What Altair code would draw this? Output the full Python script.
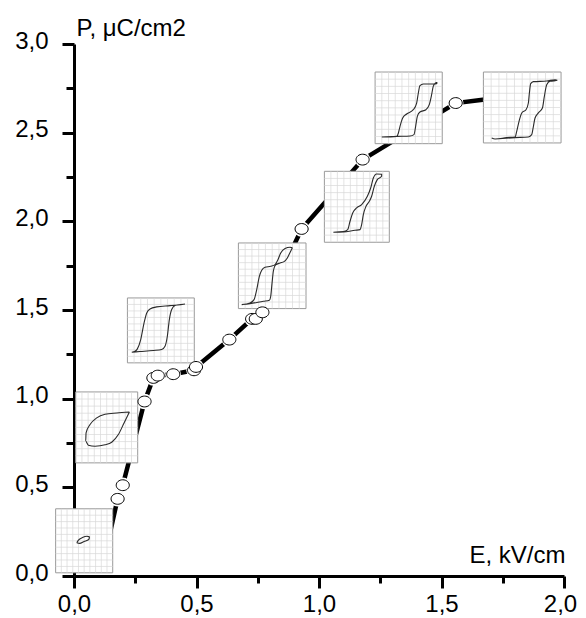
import altair as alt
import pandas as pd

# ---- measured data (E in kV/cm, P in uC/cm2) ----
E_POINTS = [0.178, 0.199, 0.288, 0.324, 0.342, 0.405, 0.490, 0.498, 0.634,
            0.727, 0.742, 0.769, 0.929, 1.178, 1.558]
P_POINTS = [0.435, 0.512, 0.984, 1.117, 1.130, 1.138, 1.160, 1.179, 1.333,
            1.450, 1.450, 1.487, 1.957, 2.348, 2.667]
# curve continues behind the first and last inset
CURVE_E = [0.14] + E_POINTS + [1.90]
CURVE_P = [0.20] + P_POINTS + [2.725]

# inset hysteresis-loop pictures: bounding boxes in data units
INSET_X0 = [-0.075, 0.007, 0.218, 0.671, 1.022, 1.229, 1.671]
INSET_X1 = [0.158, 0.260, 0.491, 0.947, 1.287, 1.503, 1.988]
INSET_Y0 = [0.018, 0.638, 1.202, 1.508, 1.882, 2.438, 2.442]
INSET_Y1 = [0.379, 1.038, 1.568, 1.878, 2.282, 2.842, 2.842]
GRID_FRACTIONS = [0.1, 0.2, 0.3, 0.4, 0.5, 0.6, 0.7, 0.8, 0.9]

# loops inside each inset, in fractions of the inset box
LOOP1_U = [0.37, 0.40, 0.47, 0.55, 0.60, 0.58, 0.50, 0.42, 0.37]
LOOP1_V = [0.47, 0.51, 0.55, 0.57, 0.56, 0.52, 0.49, 0.46, 0.47]
LOOP2_U = [0.866, 0.661, 0.473, 0.339, 0.231, 0.167, 0.161, 0.204, 0.312, 0.473, 0.581, 0.688, 0.780, 0.866]
LOOP2_V = [0.718, 0.704, 0.685, 0.634, 0.540, 0.423, 0.305, 0.249, 0.235, 0.254, 0.291, 0.399, 0.563, 0.718]
LOOP3_U = [0.065, 0.189, 0.388, 0.512, 0.562, 0.597, 0.627, 0.662, 0.711, 0.861, 0.637, 0.438, 0.338, 0.289, 0.249, 0.199, 0.149, 0.114, 0.065]
LOOP3_V = [0.164, 0.174, 0.190, 0.205, 0.256, 0.410, 0.667, 0.821, 0.882, 0.908, 0.882, 0.862, 0.831, 0.769, 0.615, 0.359, 0.215, 0.179, 0.164]
LOOP4_U = [0.049, 0.172, 0.369, 0.458, 0.478, 0.498, 0.517, 0.552, 0.616, 0.675, 0.724, 0.773, 0.803, 0.764, 0.690, 0.626, 0.581, 0.542, 0.478, 0.394, 0.345, 0.310, 0.271, 0.232, 0.172, 0.049]
LOOP4_V = [0.061, 0.076, 0.112, 0.127, 0.188, 0.391, 0.569, 0.665, 0.695, 0.716, 0.772, 0.873, 0.924, 0.934, 0.914, 0.848, 0.736, 0.670, 0.645, 0.629, 0.584, 0.492, 0.289, 0.137, 0.086, 0.061]
LOOP5_U = [0.138, 0.292, 0.472, 0.549, 0.574, 0.600, 0.641, 0.692, 0.728, 0.769, 0.815, 0.882, 0.882, 0.805, 0.754, 0.713, 0.662, 0.574, 0.497, 0.436, 0.395, 0.359, 0.292, 0.138]
LOOP5_V = [0.141, 0.146, 0.169, 0.178, 0.249, 0.390, 0.507, 0.577, 0.648, 0.789, 0.883, 0.930, 0.958, 0.962, 0.906, 0.765, 0.648, 0.531, 0.484, 0.413, 0.296, 0.178, 0.150, 0.141]
LOOP6_U = [0.099, 0.322, 0.520, 0.579, 0.604, 0.629, 0.668, 0.757, 0.807, 0.842, 0.866, 0.901, 0.926, 0.916, 0.866, 0.718, 0.668, 0.644, 0.619, 0.569, 0.470, 0.411, 0.371, 0.347, 0.322, 0.099]
LOOP6_V = [0.093, 0.102, 0.107, 0.126, 0.242, 0.381, 0.442, 0.474, 0.544, 0.684, 0.800, 0.847, 0.856, 0.837, 0.833, 0.833, 0.809, 0.707, 0.567, 0.474, 0.414, 0.358, 0.242, 0.149, 0.102, 0.093]
LOOP7_U = [0.107, 0.150, 0.300, 0.408, 0.429, 0.459, 0.494, 0.549, 0.579, 0.592, 0.609, 0.644, 0.815, 0.923, 0.953, 0.901, 0.858, 0.815, 0.785, 0.760, 0.708, 0.665, 0.644, 0.622, 0.579, 0.408, 0.150]
LOOP7_V = [0.070, 0.056, 0.075, 0.085, 0.164, 0.305, 0.423, 0.469, 0.563, 0.704, 0.836, 0.864, 0.873, 0.892, 0.883, 0.873, 0.869, 0.822, 0.657, 0.493, 0.423, 0.352, 0.235, 0.117, 0.085, 0.075, 0.056]
LOOPS_U = [LOOP1_U, LOOP2_U, LOOP3_U, LOOP4_U, LOOP5_U, LOOP6_U, LOOP7_U]
LOOPS_V = [LOOP1_V, LOOP2_V, LOOP3_V, LOOP4_V, LOOP5_V, LOOP6_V, LOOP7_V]

X_MAJOR = [0.0, 0.5, 1.0, 1.5, 2.0]
X_MINOR = [0.25, 0.75, 1.25, 1.75]
Y_MAJOR = [0.0, 0.5, 1.0, 1.5, 2.0, 2.5, 3.0]
Y_MINOR = [0.25, 0.75, 1.25, 1.75, 2.25, 2.75]

FONT = "Liberation Sans"

# ---- tables ----
curve_df = pd.DataFrame({"E": CURVE_E, "P": CURVE_P, "k": range(len(CURVE_E))})
pts_df = pd.DataFrame({"E": E_POINTS, "P": P_POINTS})
inset_df = pd.DataFrame({"x0": INSET_X0, "x1": INSET_X1, "y0": INSET_Y0, "y1": INSET_Y1})

grid_rows = []
loop_rows = []
for i in range(len(INSET_X0)):
    x0, x1, y0, y1 = INSET_X0[i], INSET_X1[i], INSET_Y0[i], INSET_Y1[i]
    for f in GRID_FRACTIONS:
        gx = x0 + f * (x1 - x0)
        gy = y0 + f * (y1 - y0)
        grid_rows.append({"x": gx, "x2": gx, "y": y0, "y2": y1})
        grid_rows.append({"x": x0, "x2": x1, "y": gy, "y2": gy})
    for k, (u, v) in enumerate(zip(LOOPS_U[i], LOOPS_V[i])):
        loop_rows.append({"id": i, "k": k, "x": x0 + u * (x1 - x0), "y": y0 + v * (y1 - y0)})
grid_df = pd.DataFrame(grid_rows)
loop_df = pd.DataFrame(loop_rows)

xs = alt.Scale(domain=[0, 2], nice=False, zero=False)
ys = alt.Scale(domain=[0, 3], nice=False, zero=False)

lab = "replace(format(datum.value, '.1f'), '.', ',')"

x_main = alt.Axis(values=X_MAJOR, labelExpr=lab, orient="bottom", grid=False,
                  domainColor="black", domainWidth=3, tickColor="black", tickWidth=3, tickSize=12,
                  labelFont=FONT, labelFontSize=24, labelColor="black", labelPadding=4,
                  labelFlush=False, labelOverlap=False,
                  labelOffset={"condition": {"test": "datum.value >= 2", "value": -4}, "value": 0},
                  title="E, kV/cm", titleFont=FONT, titleFontSize=24, titleFontWeight="normal",
                  titleColor="black", titleAlign="right", titleBaseline="alphabetic",
                  titleX=491, titleY=-14, titleAngle=0)
y_main = alt.Axis(values=Y_MAJOR, labelExpr=lab, orient="left", grid=False,
                  domainColor="black", domainWidth=3, tickColor="black", tickWidth=3, tickSize=12,
                  labelFont=FONT, labelFontSize=24, labelColor="black", labelPadding=14,
                  labelOffset=-3,
                  labelFlush=False, labelOverlap=False,
                  title="P, \u03bcC/cm2", titleFont=FONT, titleFontSize=24, titleFontWeight="normal",
                  titleColor="black", titleAlign="left", titleBaseline="alphabetic",
                  titleX=2, titleY=-9, titleAngle=0)
x_minor = alt.Axis(values=X_MINOR, orient="bottom", grid=False, domain=False, labels=False,
                   tickColor="black", tickWidth=3, tickSize=7, title="")
y_minor = alt.Axis(values=Y_MINOR, orient="left", grid=False, domain=False, labels=False,
                   tickColor="black", tickWidth=3, tickSize=8, title="")

line = alt.Chart(curve_df).mark_line(color="black", strokeWidth=4.5).encode(
    x=alt.X("E:Q", scale=xs, axis=x_main),
    y=alt.Y("P:Q", scale=ys, axis=y_main),
    order="k:Q",
)
halo = alt.Chart(pts_df).mark_point(shape="circle", filled=True, color="white", opacity=1, size=240).encode(
    x=alt.X("E:Q", scale=xs, axis=None),
    y=alt.Y("P:Q", scale=ys, axis=None),
)
boxes = alt.Chart(inset_df).mark_rect(fill="white", stroke="#9a9a9a", strokeWidth=1).encode(
    x=alt.X("x0:Q", scale=xs, axis=None), x2="x1:Q",
    y=alt.Y("y0:Q", scale=ys, axis=None), y2="y1:Q",
)
grid = alt.Chart(grid_df).mark_rule(color="#d9d9d9", strokeWidth=0.7).encode(
    x=alt.X("x:Q", scale=xs, axis=None), x2="x2:Q",
    y=alt.Y("y:Q", scale=ys, axis=None), y2="y2:Q",
)
loops = alt.Chart(loop_df).mark_line(color="#2a2a2a", strokeWidth=1.1, interpolate="monotone").encode(
    x=alt.X("x:Q", scale=xs, axis=None),
    y=alt.Y("y:Q", scale=ys, axis=None),
    detail="id:N",
    order="k:Q",
)
ELLIPSE = "M -1.15 0 A 1.15 0.95 0 1 0 1.15 0 A 1.15 0.95 0 1 0 -1.15 0 Z"
circles = alt.Chart(pts_df).mark_point(shape=ELLIPSE, filled=True, fill="white", stroke="black",
                                       strokeWidth=1, opacity=1, size=130).encode(
    x=alt.X("E:Q", scale=xs, axis=x_minor),
    y=alt.Y("P:Q", scale=ys, axis=y_minor),
)

chart = alt.layer(line, halo, boxes, grid, loops, circles).resolve_axis(
    x="independent", y="independent"
).properties(
    width=490, height=532,
    autosize=alt.AutoSizeParams(type="none"),
    padding={"left": 66, "top": 36, "right": 14, "bottom": 42},
).configure_view(stroke=None)

chart.save("out.html", embed_options={"renderer": "svg", "actions": False})
